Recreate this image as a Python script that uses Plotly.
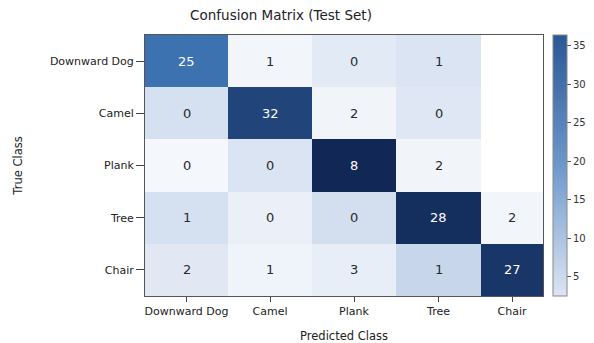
import plotly.graph_objects as go

classes = ["Downward Dog", "Camel", "Plank", "Tree", "Chair"]
counts = [
    [25, 1, 0, 1, None],
    [0, 32, 2, 0, None],
    [0, 0, 8, 2, None],
    [1, 0, 0, 28, 2],
    [2, 1, 3, 1, 27],
]
# shade intensity of each cell as drawn (0 = white, 1 = navy)
shade = [
    [0.72, 0.04, 0.15, 0.20, None],
    [0.22, 0.90, 0.05, 0.17, None],
    [0.03, 0.20, 1.00, 0.05, None],
    [0.22, 0.09, 0.23, 0.98, 0.04],
    [0.16, 0.06, 0.11, 0.27, 0.95],
]
cbar_min, cbar_max = 2.5, 36.4
cbar_ticks = [5, 10, 15, 20, 25, 30, 35]

# column edges (cells are not all equal width in the reference)
col_edges = [0, 83, 167, 251, 336, 398]
col_centers = [(col_edges[i] + col_edges[i + 1]) / 2 for i in range(5)]

cell_scale = [
    [0.0, "#f8fafd"], [0.2, "#dbe4f2"], [0.5, "#86a8d3"],
    [0.72, "#3d72b0"], [0.86, "#275089"], [1.0, "#112856"],
]
bar_scale = [[0.0, "#dde6f3"], [0.5, "#6e98cb"], [1.0, "#2a5796"]]

fig = go.Figure()
fig.add_trace(go.Heatmap(
    z=shade, x=col_edges, y=list(range(5)),
    colorscale=cell_scale, zmin=0, zmax=1, showscale=False,
    hoverongaps=False,
))
fig.add_trace(go.Scatter(
    x=[None], y=[None], mode="markers", showlegend=False,
    marker=dict(colorscale=bar_scale, cmin=cbar_min, cmax=cbar_max, color=[cbar_min],
                showscale=True,
                colorbar=dict(x=1.0, xanchor="left", xpad=10, y=0.5, yanchor="middle", len=1.0,
                              ypad=0, thickness=14, outlinecolor="#888", outlinewidth=1,
                              tickvals=cbar_ticks, ticks="outside", ticklen=4,
                              tickcolor="#555", tickfont=dict(size=10, color="#333"))),
))

for i, row in enumerate(counts):
    for j, v in enumerate(row):
        if v is None:
            continue
        s = shade[i][j]
        fig.add_annotation(x=col_centers[j], y=i, text=str(v), showarrow=False,
                           font=dict(size=13, color="white" if s > 0.6 else "#2a2a2a"))

fig.update_xaxes(range=[0, 398], tickvals=col_centers, ticktext=classes,
                 ticks="outside", ticklen=5, tickcolor="#444",
                 showline=True, linecolor="#555", linewidth=1, mirror=True,
                 showgrid=False, zeroline=False,
                 tickfont=dict(size=11, color="#222"),
                 title=dict(text="Predicted Class", font=dict(size=11.5, color="#222"), standoff=14))
fig.update_yaxes(range=[4.5, -0.5], tickvals=list(range(5)), ticktext=classes,
                 ticks="outside", ticklen=8, tickcolor="#444",
                 showline=True, linecolor="#555", linewidth=1, mirror=True,
                 showgrid=False, zeroline=False,
                 tickfont=dict(size=11, color="#222"),
                 title=dict(text="True Class", font=dict(size=11.5, color="#222"), standoff=24))

# the page body has an 8px margin, so the figure is drawn 8px smaller and shifted
fig.update_layout(
    width=586, height=335,
    margin=dict(l=137, r=51, t=27, b=47, autoexpand=False),
    paper_bgcolor="white", plot_bgcolor="white",
    font=dict(family="DejaVu Sans", color="#222"),
    title=dict(text="Confusion Matrix (Test Set)", x=273 / 586, xanchor="center",
               y=1 - 7 / 335, yanchor="middle", font=dict(size=13.5, color="#222")),
)

fig.write_html("out.html")
